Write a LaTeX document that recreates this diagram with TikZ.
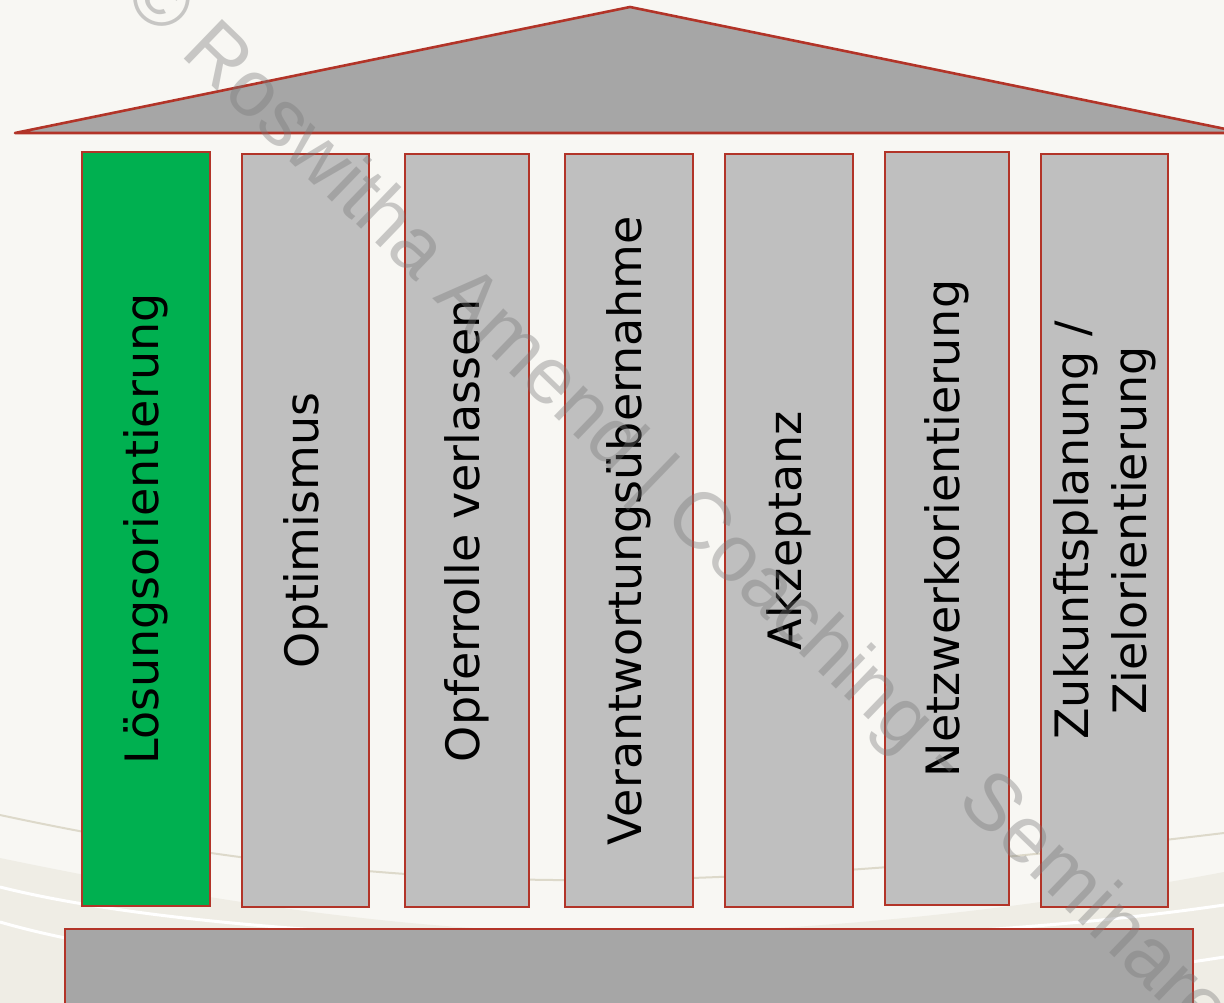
\documentclass[tikz,border=0pt]{standalone}
\usepackage{fontspec}
\setmainfont{DejaVu Sans}
\newfontfamily\wmfont{Liberation Sans}
\definecolor{bgcream}{RGB}{248,247,243}
\definecolor{bgband}{RGB}{239,237,229}
\definecolor{beigeline}{RGB}{221,217,202}
\definecolor{pillarred}{RGB}{178,52,40}
\definecolor{roofgray}{RGB}{166,166,166}
\definecolor{colgray}{RGB}{191,191,191}
\definecolor{colgreen}{RGB}{0,176,80}
\definecolor{wmgray}{RGB}{120,120,120}
\tikzset{
  roofshape/.style={fill=roofgray, draw=pillarred, line width=2.6pt, line join=round},
  pillar/.style={draw=pillarred, line width=2.4pt, fill=colgray, rotate=90, inner sep=0pt,
    align=center, text=black, font=\fontsize{46}{58}\selectfont},
  greenpillar/.style={pillar, fill=colgreen},
  basebox/.style={fill=roofgray, draw=pillarred, line width=2.6pt},
  watermark/.style={rotate=-44, text=wmgray, opacity=0.38, font=\wmfont\fontsize{80}{90}\selectfont, inner sep=0pt}
}
\begin{document}
\begin{tikzpicture}[x=1pt,y=-1pt]
\useasboundingbox (0,0) rectangle (1224,1003);
\clip (0,0) rectangle (1224,1003);
% background
\fill[bgcream] (0,0) rectangle (1224,1003);
\fill[bgband] (0,858) .. controls (250,910) and (450,935) .. (640,933)
  .. controls (850,930) and (1050,905) .. (1224,872) -- (1224,1003) -- (0,1003) -- cycle;
\draw[white, line width=3pt] (0,887) .. controls (250,950) and (850,960) .. (1224,905);
\draw[white, line width=3pt] (0,922) .. controls (250,995) and (900,1010) .. (1224,957);
\draw[beigeline, line width=2pt] (0,815) .. controls (200,858) and (400,882) .. (600,880)
  .. controls (800,878) and (1000,860) .. (1224,833);
% roof
\draw[roofshape] (15,133) -- (630,7) -- (1245,133) -- cycle;
% pillars
\node[greenpillar, minimum width=754pt, minimum height=128pt] (c1) at (146,529) {Lösungsorientierung};
\node[pillar, minimum width=753pt, minimum height=127pt] (c2) at (305.5,530.5) {Optimismus};
\node[pillar, minimum width=753pt, minimum height=124pt] (c3) at (467,530.5) {Opferrolle verlassen};
\node[pillar, minimum width=753pt, minimum height=128pt] (c4) at (629,530.5) {Verantwortungsübernahme};
\node[pillar, minimum width=753pt, minimum height=128pt] (c5) at (789,530.5) {Akzeptanz};
\node[pillar, minimum width=753pt, minimum height=124pt] (c6) at (947,528.5) {Netzwerkorientierung};
\node[pillar, minimum width=753pt, minimum height=127pt] (c7) at (1104.5,530.5) {Zukunftsplanung /\\Zielorientierung};
% base
\draw[basebox] (65,929) rectangle (1193,1015);
% watermark
\node[watermark] (wm) at (676,505) {© Roswitha Amend | Coaching - Seminare};
\end{tikzpicture}
\end{document}
